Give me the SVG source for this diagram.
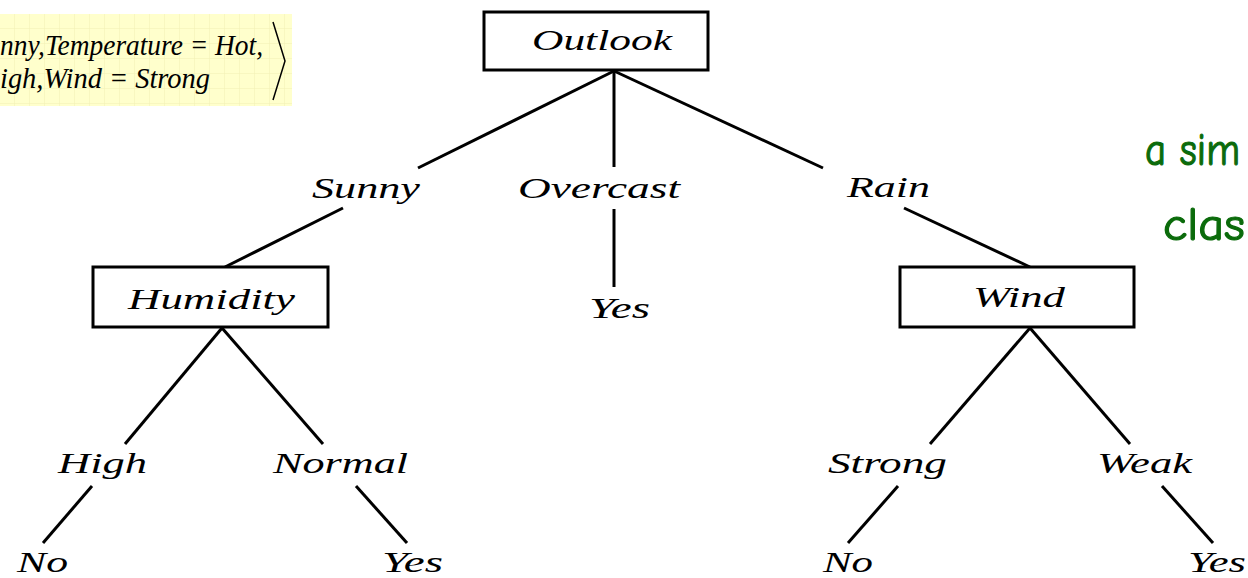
<svg xmlns="http://www.w3.org/2000/svg" width="1248" height="578" viewBox="0 0 1248 578">
  <style>
    .box { fill: #ffffff; stroke: #000000; stroke-width: 3; }
    .edge { stroke: #000000; stroke-width: 3; fill: none; stroke-linecap: butt; }
    .t { font-family: "Liberation Serif", "DejaVu Serif", serif; font-style: italic; font-size: 30px; fill: #000000; }
    .m { font-family: "Liberation Serif", "DejaVu Serif", serif; font-style: italic; font-size: 29px; fill: #000000; }
    .g { font-family: "Comic Sans MS", "Comic Neue", "DejaVu Sans", sans-serif; font-size: 46px; fill: #0b6b0b; stroke: #0b6b0b; stroke-width: 1.2; }
  </style>
  <defs>
    <pattern id="grid" width="15" height="15" patternUnits="userSpaceOnUse" x="0" y="14">
      <rect width="15" height="15" fill="#ffffcc"/>
      <path d="M15 0 V15 M0 15 H15" stroke="#f2f0b4" stroke-width="1" fill="none"/>
    </pattern>
  </defs>
  <rect width="1248" height="578" fill="#ffffff"/>

  <g id="example">
    <rect x="0" y="14" width="292" height="92" fill="url(#grid)"/>
    <text class="m" x="0" y="55" textLength="263" lengthAdjust="spacingAndGlyphs">nny,Temperature = Hot,</text>
    <text class="m" x="0" y="88" textLength="210" lengthAdjust="spacingAndGlyphs">igh,Wind = Strong</text>
    <polyline points="273,22 285,61 273,100" fill="none" stroke="#000" stroke-width="1.5"/>
  </g>

  <g id="connectors">
    <line class="edge" x1="614" y1="71" x2="418" y2="168"/>
    <line class="edge" x1="614" y1="71" x2="614" y2="167"/>
    <line class="edge" x1="614" y1="71" x2="823" y2="168"/>
    <line class="edge" x1="343" y1="208" x2="225" y2="267"/>
    <line class="edge" x1="614" y1="209" x2="614" y2="287"/>
    <line class="edge" x1="904" y1="208" x2="1030" y2="267"/>
    <line class="edge" x1="222" y1="328" x2="125" y2="444"/>
    <line class="edge" x1="222" y1="328" x2="323" y2="444"/>
    <line class="edge" x1="92" y1="486" x2="43" y2="543"/>
    <line class="edge" x1="356" y1="486" x2="407" y2="543"/>
    <line class="edge" x1="1030" y1="328" x2="930" y2="444"/>
    <line class="edge" x1="1030" y1="328" x2="1130" y2="444"/>
    <line class="edge" x1="898" y1="486" x2="848" y2="543"/>
    <line class="edge" x1="1162" y1="486" x2="1213" y2="543"/>
  </g>

  <g id="outlook">
    <rect class="box" x="484" y="12" width="224" height="58"/>
    <text class="t" x="532" y="50" textLength="140" lengthAdjust="spacingAndGlyphs">Outlook</text>
  </g>
  <g id="sunny"><text class="t" x="312" y="198" textLength="108" lengthAdjust="spacingAndGlyphs">Sunny</text></g>
  <g id="overcast"><text class="t" x="518" y="198" textLength="162" lengthAdjust="spacingAndGlyphs">Overcast</text></g>
  <g id="rain"><text class="t" x="847" y="197" textLength="83" lengthAdjust="spacingAndGlyphs">Rain</text></g>
  <g id="yes-overcast"><text class="t" x="589" y="318" textLength="61" lengthAdjust="spacingAndGlyphs">Yes</text></g>

  <g id="humidity">
    <rect class="box" x="93" y="267" width="235" height="60"/>
    <text class="t" x="128" y="309" textLength="167" lengthAdjust="spacingAndGlyphs">Humidity</text>
  </g>
  <g id="wind">
    <rect class="box" x="900" y="267" width="234" height="60"/>
    <text class="t" x="973" y="307" textLength="92" lengthAdjust="spacingAndGlyphs">Wind</text>
  </g>

  <g id="high"><text class="t" x="58" y="473" textLength="89" lengthAdjust="spacingAndGlyphs">High</text></g>
  <g id="normal"><text class="t" x="273" y="473" textLength="135" lengthAdjust="spacingAndGlyphs">Normal</text></g>
  <g id="strong"><text class="t" x="828" y="473" textLength="119" lengthAdjust="spacingAndGlyphs">Strong</text></g>
  <g id="weak"><text class="t" x="1097" y="473" textLength="95" lengthAdjust="spacingAndGlyphs">Weak</text></g>

  <g id="no-high"><text class="t" x="17" y="572" textLength="51" lengthAdjust="spacingAndGlyphs">No</text></g>
  <g id="yes-normal"><text class="t" x="382" y="572" textLength="61" lengthAdjust="spacingAndGlyphs">Yes</text></g>
  <g id="no-strong"><text class="t" x="823" y="572" textLength="50" lengthAdjust="spacingAndGlyphs">No</text></g>
  <g id="yes-weak"><text class="t" x="1188" y="572" textLength="58" lengthAdjust="spacingAndGlyphs">Yes</text></g>

  <g id="note">
    <text class="g" x="1145" y="165" textLength="95" lengthAdjust="spacingAndGlyphs">a sim</text>
    <text class="g" x="1163" y="240" textLength="82" lengthAdjust="spacingAndGlyphs">clas</text>
  </g>
</svg>
